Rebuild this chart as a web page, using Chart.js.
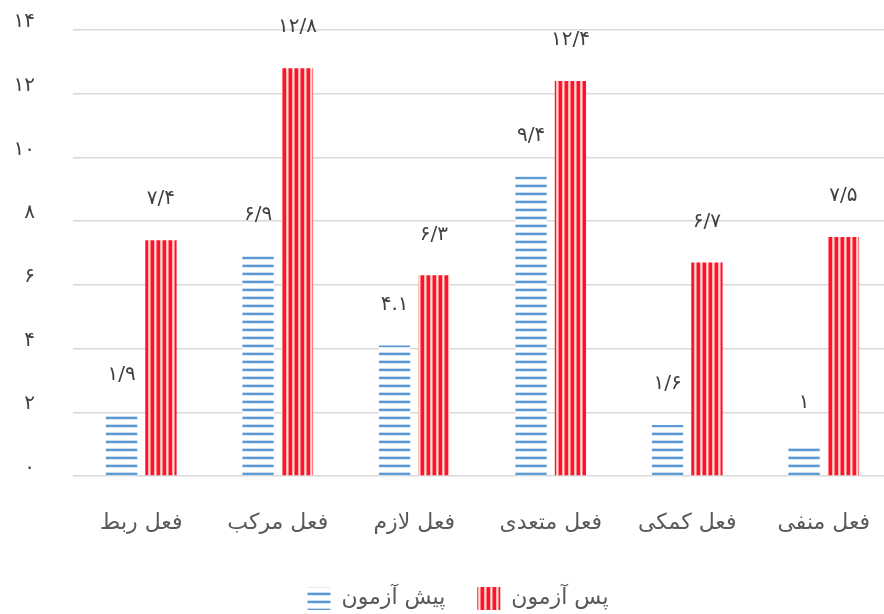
<!DOCTYPE html>
<html lang="fa">
<head>
<meta charset="utf-8">
<script src="https://cdn.jsdelivr.net/npm/chart.js@4.4.1/dist/chart.umd.min.js"></script>
<style>
  html, body { margin: 0; padding: 0; background: #fff; overflow: hidden; }
  #wrap { position: relative; width: 892px; height: 614px; }
</style>
</head>
<body>
<div id="wrap"><canvas id="chart"></canvas></div>
<script>
// categories, left to right as drawn
const categories = ['فعل ربط', 'فعل مرکب', 'فعل لازم', 'فعل متعدی', 'فعل کمکی', 'فعل منفی'];
const seriesNames = ['پیش آزمون', 'پس آزمون'];

// pre-test (blue) and post-test (red) values
const preValues = [1.9, 6.9, 4.1, 9.4, 1.6, 1];
const postValues = [7.4, 12.8, 6.3, 12.4, 6.7, 7.5];

// value labels as printed above the bars
const preLabels = ['۱/۹', '۶/۹', '۴.۱', '۹/۴', '۱/۶', '۱'];
const postLabels = ['۷/۴', '۱۲/۸', '۶/۳', '۱۲/۴', '۶/۷', '۷/۵'];

const yTicks = [0, 2, 4, 6, 8, 10, 12, 14];

const FONT = "'DejaVu Sans', sans-serif";
const faDigits = '۰۱۲۳۴۵۶۷۸۹';
function toFa(n) {
  return String(n).replace(/[0-9]/g, d => faDigits[+d]);
}

// striped fills
function blueStripes() {
  const c = document.createElement('canvas');
  c.width = 8; c.height = 8;
  const g = c.getContext('2d');
  g.fillStyle = '#ffffff'; g.fillRect(0, 0, 8, 8);
  g.fillStyle = '#c9dcef'; g.fillRect(0, 0, 8, 1);
  g.fillStyle = '#5b9bd5'; g.fillRect(0, 1, 8, 2);
  g.fillStyle = '#dce8f5'; g.fillRect(0, 3, 8, 1);
  return g.createPattern(c, 'repeat');
}
function redStripes() {
  const c = document.createElement('canvas');
  c.width = 6; c.height = 6;
  const g = c.getContext('2d');
  g.fillStyle = '#fde6c4'; g.fillRect(0, 0, 6, 6);
  g.fillStyle = '#ff7a84'; g.fillRect(0, 0, 1, 6);
  g.fillStyle = '#ff1230'; g.fillRect(1, 0, 3, 6);
  g.fillStyle = '#ffb3a8'; g.fillRect(4, 0, 1, 6);
  return g.createPattern(c, 'repeat');
}

const valueLabels = {
  id: 'valueLabels',
  afterDatasetsDraw(chart) {
    const ctx = chart.ctx;
    const texts = [preLabels, postLabels];
    ctx.save();
    ctx.font = '20px ' + FONT;
    ctx.fillStyle = '#404040';
    ctx.textAlign = 'center';
    ctx.textBaseline = 'middle';
    chart.data.datasets.forEach((ds, di) => {
      chart.getDatasetMeta(di).data.forEach((bar, i) => {
        ctx.fillText(texts[di][i], bar.x, bar.y - 41);
      });
    });
    ctx.restore();
  }
};

// nudge the legend a little right and down
const legendNudge = {
  id: 'legendNudge',
  afterLayout(chart) {
    const lg = chart.legend;
    lg.left += 12; lg.right += 12;
    lg.top += 6; lg.bottom += 6;
  }
};

new Chart(document.getElementById('chart'), {
  type: 'bar',
  data: {
    labels: categories,
    datasets: [
      { label: seriesNames[0], data: preValues, backgroundColor: blueStripes(), borderWidth: 0,
        categoryPercentage: 0.577, barPercentage: 0.795 },
      { label: seriesNames[1], data: postValues, backgroundColor: redStripes(), borderWidth: 0,
        categoryPercentage: 0.577, barPercentage: 0.795 }
    ]
  },
  options: {
    responsive: true,
    maintainAspectRatio: false,
    animation: false,
    layout: { padding: { top: 30, left: 0, right: 0, bottom: 0 } },
    plugins: {
      tooltip: { enabled: false },
      legend: {
        position: 'bottom',
        labels: {
          font: { family: FONT, size: 22 },
          color: '#595959',
          boxWidth: 23,
          boxHeight: 23,
          padding: 4,
          generateLabels(chart) {
            const items = Chart.defaults.plugins.legend.labels.generateLabels(chart);
            items[0].text = items[0].text + '\u00a0\u00a0\u00a0\u00a0';
            return items;
          }
        }
      }
    },
    scales: {
      x: {
        grid: { display: false, drawTicks: false },
        border: { display: false },
        ticks: { font: { family: FONT, size: 22 }, color: '#595959', padding: 34 },
        afterFit(scale) {
          scale.height = 101;
          scale.paddingLeft = 0; scale.paddingRight = 0;
        }
      },
      y: {
        min: 0, max: 14,
        afterBuildTicks(scale) { scale.ticks = yTicks.map(v => ({ value: v })); },
        grid: { color: '#d9d9d9', lineWidth: 1.5, drawTicks: false },
        border: { display: false },
        ticks: {
          font: { family: FONT, size: 20 }, color: '#404040', padding: 38, labelOffset: -8,
          callback: v => toFa(v)
        },
        afterFit(scale) {
          scale.width = 73;
          scale.paddingTop = 0; scale.paddingBottom = 0;
        }
      }
    }
  },
  plugins: [valueLabels, legendNudge]
});
</script>
</body>
</html>
